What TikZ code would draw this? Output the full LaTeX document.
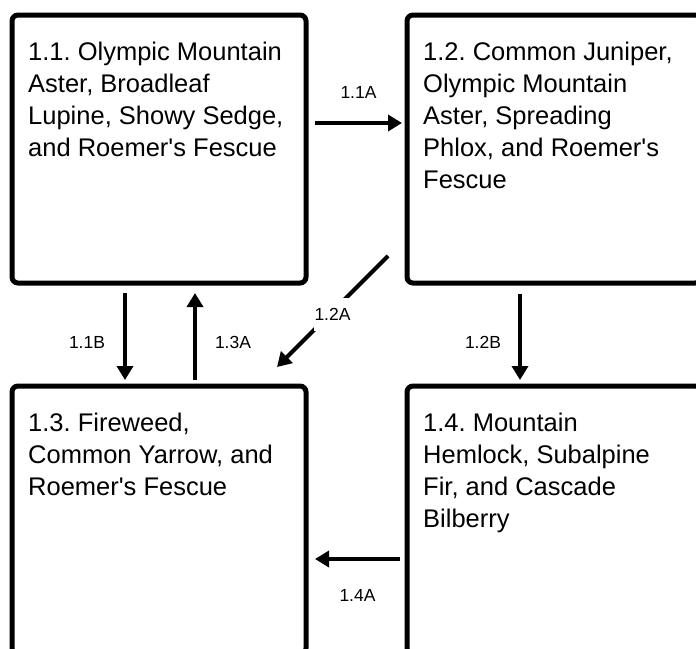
\documentclass[tikz,border=0pt]{standalone}
\usepackage{fontspec}
\setmainfont{Liberation Sans}[Ligatures=TeXOff]
\usepackage{tikz}
\usetikzlibrary{arrows.meta,calc}
\definecolor{strich}{HTML}{000000}
\frenchspacing
\tikzset{
  box/.style={draw=strich,line width=5pt,rounded corners=6pt,minimum width=294pt,minimum height=268pt,outer sep=0pt,inner sep=0pt},
  txt/.style={anchor=north west,align=left,inner sep=0pt,font=\fontsize{25.5pt}{32pt}\selectfont},
  lab/.style={font=\fontsize{17.5pt}{20pt}\selectfont,inner sep=0pt},
  flow/.style={-{Triangle[length=14pt,width=16pt]},strich,line width=4pt},
}

\begin{document}
\begin{tikzpicture}[x=1pt,y=-1pt]
  \useasboundingbox (0,0) rectangle (696,648);
  \clip (0,0) rectangle (696,648);
  % --- Kästen ---
  \node[box] (b11) at (159,149) {};
  \node[box] (b12) at (554,149) {};
  \node[box] (b13) at (159,520) {};
  \node[box] (b14) at (554,520) {};
  \node[txt] (t11) at ([shift={(16,27)}]b11.north west) {1.1. Olympic Mountain\\Aster, Broadleaf\\Lupine, Showy Sedge,\\and Roemer's Fescue};
  \node[txt] (t12) at ([shift={(16,27)}]b12.north west) {1.2. Common Juniper,\\Olympic Mountain\\Aster, Spreading\\Phlox, and Roemer's\\Fescue};
  \node[txt] (t13) at ([shift={(16,27)}]b13.north west) {1.3. Fireweed,\\Common Yarrow, and\\Roemer's Fescue};
  \node[txt] (t14) at ([shift={(16,27)}]b14.north west) {1.4. Mountain\\Hemlock, Subalpine\\Fir, and Cascade\\Bilberry};
  % --- Übergänge ---
  \draw[flow] ([shift={(9,-26)}]b11.east) -- ([shift={(-5,-26)}]b12.west)
    node[lab,midway,yshift=31pt] (l11a) {1.1A};
  \draw[flow] ([shift={(-34,10)}]b11.south) -- ([shift={(-34,-6)}]b13.north)
    node[lab,midway,xshift=-38pt,yshift=-6pt] (l11b) {1.1B};
  \draw[flow] ([shift={(36,-6)}]b13.north) -- ([shift={(36,10)}]b11.south)
    node[lab,midway,xshift=38pt,yshift=-6pt] (l13a) {1.3A};
  \draw[flow] ([shift={(-19,-27)}]b12.south west) -- ([shift={(-29,-19)}]b13.north east)
    node[lab,midway,fill=white,inner xsep=1pt,inner ysep=10pt,yshift=-3pt] (l12a) {1.2A};
  \draw[flow] ([shift={(-34,11)}]b12.south) -- ([shift={(-34,-6)}]b14.north)
    node[lab,midway,xshift=-37pt,yshift=-5pt] (l12b) {1.2B};
  \draw[flow] ([shift={(-7,39)}]b14.west) -- ([shift={(9,39)}]b13.east)
    node[lab,midway,yshift=-36pt] (l14a) {1.4A};
\end{tikzpicture}
\end{document}
